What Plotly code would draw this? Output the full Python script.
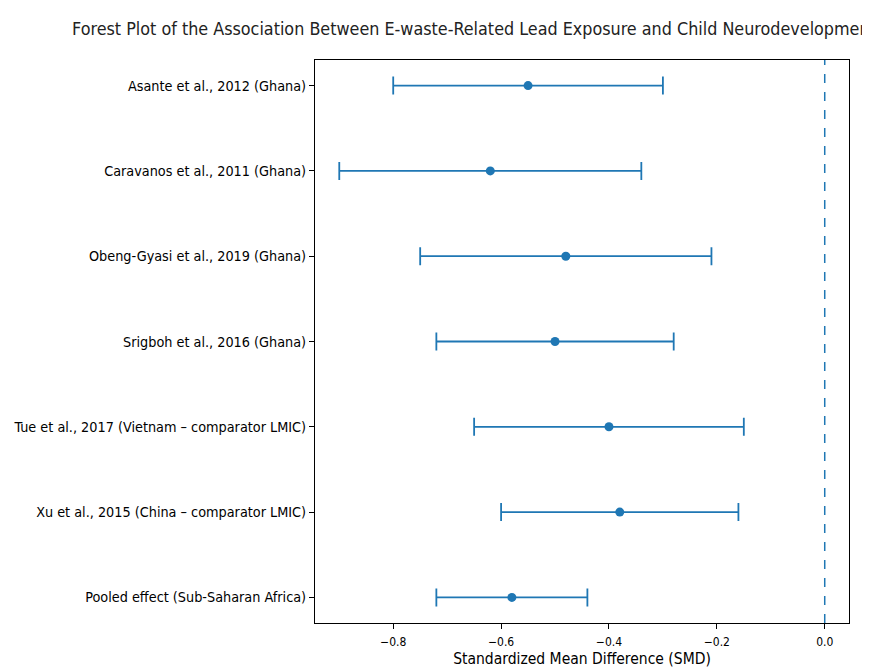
import plotly.graph_objects as go

studies = [
    "Asante et al., 2012 (Ghana)",
    "Caravanos et al., 2011 (Ghana)",
    "Obeng-Gyasi et al., 2019 (Ghana)",
    "Srigboh et al., 2016 (Ghana)",
    "Tue et al., 2017 (Vietnam \u2013 comparator LMIC)",
    "Xu et al., 2015 (China \u2013 comparator LMIC)",
    "Pooled effect (Sub-Saharan Africa)",
]
smd = [-0.55, -0.62, -0.48, -0.50, -0.40, -0.38, -0.58]
ci_low = [-0.80, -0.90, -0.75, -0.72, -0.65, -0.60, -0.72]
ci_high = [-0.30, -0.34, -0.21, -0.28, -0.15, -0.16, -0.44]
x_ticks = [-0.8, -0.6, -0.4, -0.2, 0.0]

FONT = "DejaVu Sans Condensed, Liberation Sans Narrow, DejaVu Sans, sans-serif"
C0 = "#1f77b4"

err_plus = [h - m for h, m in zip(ci_high, smd)]
err_minus = [m - l for m, l in zip(smd, ci_low)]

W, H = 862, 660  # page body has an 8px margin

fig = go.Figure()
fig.add_trace(go.Scatter(
    x=smd, y=studies, mode="markers",
    marker=dict(color=C0, size=9),
    error_x=dict(type="data", symmetric=False, array=err_plus, arrayminus=err_minus,
                 color=C0, thickness=1.8, width=9),
    showlegend=False,
))
fig.add_vline(x=0, line=dict(color=C0, width=1.5, dash="dash"))

fig.update_layout(
    width=W, height=H,
    margin=dict(l=307, r=21, t=52, b=45, autoexpand=False),
    paper_bgcolor="white", plot_bgcolor="white",
    font=dict(family=FONT, color="black", size=12),
    title=dict(
        text="Forest Plot of the Association Between E-waste-Related Lead Exposure and Child Neurodevelopment",
        x=466 / W, xanchor="center", y=1 - 21 / H, yanchor="middle",
        font=dict(family=FONT, size=17.8, color="#222222"),
    ),
    xaxis=dict(
        range=[-0.945, 0.045], tickvals=x_ticks, tickformat=".1f",
        ticks="outside", ticklen=5, tickcolor="black", showgrid=False, zeroline=False,
        showline=True, linecolor="black", linewidth=1, mirror=True,
        ticklabelstandoff=3, automargin=False,
        title=dict(text="Standardized Mean Difference (SMD)", font=dict(size=15.5), standoff=5),
        tickfont=dict(size=12),
    ),
    yaxis=dict(
        type="category", categoryorder="array", categoryarray=studies,
        range=[6.3, -0.3], ticks="outside", ticklen=5, tickcolor="black",
        showgrid=False, zeroline=False, automargin=False,
        showline=True, linecolor="black", linewidth=1, mirror=True,
        tickfont=dict(size=14.3),
    ),
)

fig.write_html("out.html")
